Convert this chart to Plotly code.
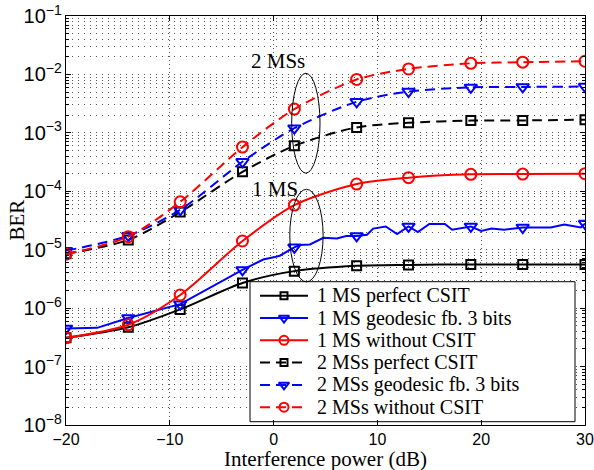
import plotly.graph_objects as go

# ---------------- data ----------------
x_markers = [-20, -14, -9, -3, 2, 8, 13, 19, 24, 30]

ms1_perfect = [3.1e-7, 4.7e-7, 9.5e-7, 2.7e-6, 4.3e-6, 5.3e-6, 5.5e-6, 5.6e-6, 5.6e-6, 5.6e-6]
ms1_geo_mk = [4.5e-7, 6.8e-7, 1.17e-6, 4.5e-6, 1.1e-5, 1.72e-5, 2.5e-5, 2.5e-5, 2.4e-5, 2.8e-5]
ms1_without = [3.1e-7, 5.2e-7, 1.68e-6, 1.41e-5, 5.8e-5, 1.33e-4, 1.71e-4, 1.95e-4, 1.97e-4, 2.0e-4]
ms2_perfect = [8.5e-6, 1.47e-5, 4.4e-5, 2.15e-4, 6.0e-4, 1.24e-3, 1.49e-3, 1.62e-3, 1.63e-3, 1.68e-3]
ms2_geo = [9.6e-6, 1.74e-5, 4.8e-5, 3.2e-4, 1.2e-3, 3.4e-3, 5.1e-3, 6.0e-3, 6.1e-3, 6.2e-3]
ms2_without = [8.4e-6, 1.67e-5, 6.6e-5, 5.7e-4, 2.55e-3, 8.2e-3, 1.24e-2, 1.55e-2, 1.62e-2, 1.68e-2]

# noisy simulated curve (1 MS geodesic feedback), read densely
ms1_geo_x = [-20, -17, -14, -9, -3, -1, 0, 0.6, 2, 2.5, 3.5, 4.8, 6.1, 7, 8, 9, 9.6,
             10.8, 11.9, 13, 13.9, 15, 16.5, 17.2, 19, 20, 21, 22.2, 24, 26.7, 28, 29.6, 30]
ms1_geo_y = [4.5e-7, 4.6e-7, 6.8e-7, 1.17e-6, 4.5e-6, 6.8e-6, 7.4e-6, 7.9e-6, 1.1e-5,
             1.2e-5, 1.23e-5, 1.6e-5, 1.56e-5, 1.72e-5, 1.72e-5, 1.8e-5, 2.3e-5, 2.5e-5,
             1.86e-5, 2.5e-5, 2.0e-5, 2.75e-5, 2.75e-5, 2.2e-5, 2.5e-5, 2.1e-5, 2.3e-5,
             2.2e-5, 2.4e-5, 2.4e-5, 2.7e-5, 2.4e-5, 2.8e-5]

legend_names = ["1 MS perfect CSIT", "1 MS geodesic fb. 3 bits", "1 MS without CSIT",
                "2 MSs perfect CSIT", "2 MSs geodesic fb. 3 bits", "2 MSs without CSIT"]

x_tick_vals = [-20, -10, 0, 10, 20, 30]

# group annotations (ellipses): x0, x1, y0, y1 in data units
ell_2ms = [1.74, 4.47, 10 ** -3.69, 10 ** -1.98]
ell_1ms = [1.56, 4.77, 10 ** -5.55, 10 ** -3.966]
lab_2ms = (0.42, -1.77)
lab_1ms = (0.13, -3.96)

# ---------------- figure ----------------
W, H = 594, 470
ML, MR, MT, MB = 66, 9, 16, 45

fig = go.Figure()

BLACK, BLUE, RED = "#000000", "#0000ff", "#ff0000"
DASH = "10px,6px"
LW = 2

series = [
    (x_markers, ms1_perfect, x_markers, ms1_perfect, BLACK, "solid", "square-open", 9, True),
    (ms1_geo_x, ms1_geo_y, x_markers, ms1_geo_mk, BLUE, "solid", "triangle-down-open", 11, False),
    (x_markers, ms1_without, x_markers, ms1_without, RED, "solid", "circle-open", 11, True),
    (x_markers, ms2_perfect, x_markers, ms2_perfect, BLACK, DASH, "square-open", 9, True),
    (x_markers, ms2_geo, x_markers, ms2_geo, BLUE, DASH, "triangle-down-open", 11, True),
    (x_markers, ms2_without, x_markers, ms2_without, RED, DASH, "circle-open", 11, True),
]

for i, (lx, ly, mx, my, col, dash, sym, ms, smooth) in enumerate(series):
    fig.add_trace(go.Scatter(
        x=lx, y=ly, mode="lines",
        line=dict(color=col, width=LW, dash=dash,
                  shape="spline" if smooth else "linear", smoothing=0.8),
        showlegend=False, hoverinfo="skip"))
    fig.add_trace(go.Scatter(
        x=mx, y=my, mode="markers",
        marker=dict(symbol=sym, size=ms, color=col, line=dict(width=2, color=col)),
        showlegend=False, hoverinfo="skip"))

# ellipses
for e in (ell_2ms, ell_1ms):
    fig.add_shape(type="circle", xref="x", yref="y",
                  x0=e[0], x1=e[1], y0=e[2], y1=e[3],
                  line=dict(color="black", width=1))

fig.add_annotation(x=lab_2ms[0], y=lab_2ms[1], xref="x", yref="y", text="2 MSs",
                   showarrow=False, font=dict(family="Liberation Serif", size=21, color="black"))
fig.add_annotation(x=lab_1ms[0], y=lab_1ms[1], xref="x", yref="y", text="1 MS",
                   showarrow=False, font=dict(family="Liberation Serif", size=21, color="black"))

# ---- legend drawn on an overlay axis measured in figure pixels ----
LEG_BOX = (250, 575, 281.7, 421.7)   # left, right, top, bottom
LEG_ROW0, LEG_ROW_STEP = 295.7, 22.3
LEG_LINE = (260, 308)
LEG_TEXT_X = 315

bx0, bx1, by0, by1 = LEG_BOX
fig.add_trace(go.Scatter(
    x=[bx0, bx1, bx1, bx0, bx0], y=[by0, by0, by1, by1, by0],
    xaxis="x2", yaxis="y2", mode="lines", fill="toself", fillcolor="white",
    line=dict(color="black", width=1), showlegend=False, hoverinfo="skip"))
for i, (lx, ly, mx, my, col, dash, sym, ms, smooth) in enumerate(series):
    yr = LEG_ROW0 + i * LEG_ROW_STEP
    fig.add_trace(go.Scatter(
        x=[LEG_LINE[0], LEG_LINE[1]], y=[yr, yr], xaxis="x2", yaxis="y2", mode="lines",
        line=dict(color=col, width=LW, dash=dash), showlegend=False, hoverinfo="skip"))
    fig.add_trace(go.Scatter(
        x=[(LEG_LINE[0] + LEG_LINE[1]) / 2], y=[yr], xaxis="x2", yaxis="y2", mode="markers",
        marker=dict(symbol=sym, size=ms - 2, color=col, line=dict(width=2, color=col)),
        showlegend=False, hoverinfo="skip"))
    fig.add_annotation(x=LEG_TEXT_X, y=yr, xref="x2", yref="y2", xanchor="left",
                       yanchor="middle", text=legend_names[i], showarrow=False,
                       font=dict(family="Liberation Serif", size=20, color="black"))

# axis titles as annotations
fig.add_annotation(x=0.5, y=-(459 - (H - MB)) / (H - MT - MB), xref="paper", yref="paper",
                   yanchor="middle", text="Interference power (dB)", showarrow=False,
                   font=dict(family="Liberation Serif", size=21, color="black"))
fig.add_annotation(x=-(ML - 16) / (W - ML - MR), y=0.5, xref="paper", yref="paper",
                   xanchor="center", text="BER", textangle=-90, showarrow=False,
                   font=dict(family="Liberation Serif", size=21, color="black"))

GRID = "#555555"
fig.update_xaxes(
    range=[-20, 30], tickvals=x_tick_vals, automargin=False,
    showline=True, linecolor="black", linewidth=1, mirror="allticks",
    ticks="inside", ticklen=5, tickcolor="black", tickwidth=1,
    showgrid=True, gridcolor=GRID, gridwidth=1, griddash="1px,3px",
    zeroline=False,
    tickfont=dict(family="Liberation Sans", size=16, color="black"),
)
fig.update_yaxes(
    type="log", range=[-8, -1], dtick=1, exponentformat="power", automargin=False,
    showline=True, linecolor="black", linewidth=1, mirror="allticks",
    ticks="inside", ticklen=5, tickcolor="black", tickwidth=1,
    showgrid=True, gridcolor=GRID, gridwidth=1, griddash="1px,5px",
    minor=dict(dtick="D1", ticks="inside", ticklen=3, tickcolor="black",
               showgrid=True, gridcolor=GRID, gridwidth=1, griddash="1px,5px"),
    zeroline=False,
    tickfont=dict(family="Liberation Sans", size=16, color="black"),
)

fig.update_layout(
    xaxis2=dict(overlaying="x", range=[ML, W - MR], visible=False, automargin=False),
    yaxis2=dict(overlaying="y", range=[H - MB, MT], visible=False, automargin=False),
    width=W, height=H,
    margin=dict(l=ML, r=MR, t=MT, b=MB, autoexpand=False),
    paper_bgcolor="white", plot_bgcolor="white",
    font=dict(family="Liberation Serif", color="black"),
    showlegend=False, hovermode=False,
)

fig.write_html("out.html")
